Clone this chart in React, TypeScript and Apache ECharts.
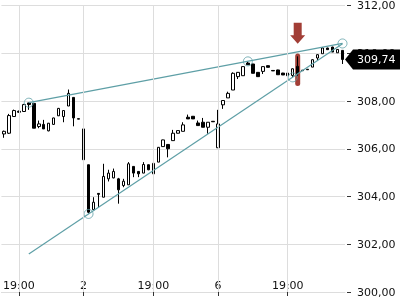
import React, { useEffect, useRef } from "react";
import * as echarts from "echarts";

// OHLC per candle (index 0..68)
const opens = [306.62, 306.65, 307.35, 307.57, 307.56, 307.92, 307.90, 306.93, 307.02, 306.75, 307.02, 307.38, 307.35, 307.79, 308.15, 307.26, 306.83, 305.33, 303.45, 304.13, 303.97, 304.74, 304.78, 304.74, 304.46, 304.49, 305.26, 305.05, 304.98, 305.33, 304.95, 305.44, 306.09, 306.18, 306.34, 306.65, 306.73, 307.32, 307.36, 307.08, 307.11, 306.90, 307.15, 306.04, 307.84, 308.13, 308.46, 309.02, 309.06, 309.59, 309.55, 309.20, 309.24, 309.48, 309.28, 309.30, 309.17, 309.17, 309.07, 309.45, 309.29, 309.33, 309.42, 309.80, 309.98, 310.22, 310.26, 310.02, 310.12];
const closes = [306.73, 307.39, 307.60, 307.53, 307.85, 307.85, 306.86, 307.04, 306.83, 307.07, 307.29, 307.69, 307.60, 308.32, 307.29, 307.24, 305.54, 303.34, 303.76, 304.09, 304.84, 304.98, 305.05, 304.28, 304.64, 305.37, 304.98, 304.95, 305.34, 305.12, 305.39, 306.06, 306.37, 306.00, 306.65, 306.76, 307.00, 307.25, 307.25, 306.97, 306.90, 307.11, 307.13, 307.04, 308.02, 308.32, 309.16, 309.20, 309.44, 309.52, 309.16, 309.02, 309.44, 309.41, 309.26, 309.10, 309.09, 309.06, 309.35, 309.14, 309.27, 309.31, 309.73, 309.94, 310.22, 310.15, 310.05, 310.16, 309.74];
const lows = [306.46, 306.62, 307.33, 307.51, 307.54, 307.63, 306.86, 306.86, 306.83, 306.73, 307.00, 307.37, 307.11, 307.79, 306.94, 307.24, 305.54, 303.29, 303.45, 303.55, 303.97, 304.63, 304.76, 303.70, 304.39, 304.49, 304.81, 304.81, 304.98, 305.10, 304.95, 305.44, 306.09, 305.64, 306.34, 306.64, 306.73, 307.25, 307.25, 306.97, 306.90, 306.63, 307.13, 306.04, 307.67, 308.13, 308.46, 308.92, 309.06, 309.52, 309.16, 309.02, 309.13, 309.41, 309.26, 309.10, 309.09, 309.06, 309.00, 309.05, 309.27, 309.31, 309.42, 309.70, 309.98, 310.15, 310.05, 310.02, 309.55];
const highs = [306.76, 307.46, 307.64, 307.60, 307.88, 307.93, 307.90, 307.18, 307.21, 307.08, 307.30, 307.71, 307.61, 308.48, 308.15, 307.26, 306.83, 305.33, 303.97, 304.14, 305.37, 305.12, 305.17, 304.78, 304.74, 305.44, 305.26, 305.06, 305.44, 305.34, 305.40, 306.07, 306.38, 306.18, 306.79, 306.77, 307.11, 307.43, 307.37, 307.18, 307.29, 307.11, 307.15, 307.63, 308.02, 308.39, 309.20, 309.21, 309.45, 309.66, 309.56, 309.21, 309.45, 309.49, 309.28, 309.31, 309.18, 309.18, 309.36, 309.87, 309.29, 309.33, 309.74, 309.95, 310.26, 310.23, 310.27, 310.17, 310.13];

// x-axis tick labels (candle index -> label)
const xTickIndices = [3, 16, 30, 43, 57];
const xTickLabels = ["19:00", "2", "19:00", "6", "19:00"];

// y axis
const yMin = 300;
const yMax = 312;
const yInterval = 2;

// trendlines [index, value]
const upperTrend = [[5, 307.93], [68, 310.41]];
const lowerTrend = [[5, 301.59], [68, 310.40]];
const pivotPoints = [[5, 307.93], [17, 303.27], [49, 309.66], [58, 308.99], [68, 310.41]];

// signal marker
const signalIndex = 59;
const signalBar = [308.73, 309.88];
const signalArrowTip = 310.40;
const signalArrowTop = 311.28;

const TEAL = "#5e9fa6";
const RED = "#a23e36";
const FONT = "DejaVu Sans";

const fmt = (v: number) => v.toFixed(2).replace(".", ",");

export default function App() {
  const ref = useRef<HTMLDivElement>(null);
  useEffect(() => {
    document.body.style.margin = "0";
    if (!ref.current) return;
    const chart = echarts.init(ref.current, null, { renderer: "svg" });
    const categories = opens.map((_, i) => String(i));
    const labelAt = new Map<number, string>(xTickIndices.map((idx, k) => [idx, xTickLabels[k]]));
    const candleData = opens.map((o, i) => [o, closes[i], lows[i], highs[i]]);

    chart.setOption({
      animation: false,
      grid: { left: 0, right: 55, top: 5, bottom: 8, containLabel: false },
      xAxis: {
        type: "category",
        data: categories,
        boundaryGap: true,
        axisLine: { show: true, lineStyle: { color: "#dddddd" } },
        axisTick: {
          show: true,
          alignWithLabel: true,
          interval: (index: number) => labelAt.has(index),
          length: 4,
          lineStyle: { color: "#333" },
        },
        axisLabel: {
          inside: true,
          margin: 1,
          interval: (index: number) => labelAt.has(index),
          formatter: (_v: string, index: number) => labelAt.get(index) ?? "",
          color: "#111",
          fontFamily: FONT,
          fontSize: 11,
        },
        splitLine: { show: false },
      },
      yAxis: {
        type: "value",
        position: "right",
        min: yMin,
        max: yMax,
        interval: yInterval,
        offset: 2,
        axisLine: { show: false },
        axisTick: { show: true, length: 4, lineStyle: { color: "#333" } },
        axisLabel: {
          margin: 10,
          formatter: (v: number) => fmt(v),
          color: "#111",
          fontFamily: FONT,
          fontSize: 11,
        },
        splitLine: { show: true, lineStyle: { color: "#dddddd" } },
      },
      series: [
        {
          type: "line",
          z: 1,
          symbol: "none",
          data: [[signalIndex, signalBar[0]], [signalIndex, signalBar[1]]],
          lineStyle: { color: RED, width: 5, cap: "round" },
          silent: true,
          markLine: {
            silent: true,
            symbol: "none",
            label: { show: false },
            lineStyle: { color: "#dddddd", width: 1, type: "solid" },
            data: xTickIndices.map((idx) => ({ xAxis: idx })),
          },
        },
        {
          type: "candlestick",
          z: 2,
          data: candleData,
          barWidth: 3,
          itemStyle: {
            color: "#ffffff",
            color0: "#000000",
            borderColor: "#000000",
            borderColor0: "#000000",
            borderWidth: 1,
          },
        },
        {
          type: "line",
          z: 3,
          symbol: "none",
          data: upperTrend,
          lineStyle: { color: TEAL, width: 1.2 },
          silent: true,
        },
        {
          type: "line",
          z: 3,
          symbol: "none",
          data: lowerTrend,
          lineStyle: { color: TEAL, width: 1.2 },
          silent: true,
        },
        {
          type: "scatter",
          z: 4,
          symbol: "circle",
          symbolSize: 9,
          data: pivotPoints,
          itemStyle: { color: "rgba(0,0,0,0)", borderColor: TEAL, borderWidth: 1 },
          silent: true,
        },
      ],
    });

    const tip = chart.convertToPixel({ xAxisIndex: 0, yAxisIndex: 0 }, [signalIndex, signalArrowTip]) as number[];
    const top = chart.convertToPixel({ xAxisIndex: 0, yAxisIndex: 0 }, [signalIndex, signalArrowTop]) as number[];
    const last = closes[closes.length - 1];
    const lp = chart.convertToPixel({ xAxisIndex: 0, yAxisIndex: 0 }, [closes.length - 1, last]) as number[];
    const bandHalf = 2.5;
    const tx = tip[0];
    const ty = tip[1];
    const headY = ty - 8.5;
    const lx = lp[0] + bandHalf;
    const ly = lp[1];

    chart.setOption({
      graphic: [
        {
          type: "polygon",
          z: 100,
          silent: true,
          shape: {
            points: [
              [tx - 4, top[1]],
              [tx + 4, top[1]],
              [tx + 4, headY],
              [tx + 7.5, headY],
              [tx, ty],
              [tx - 7.5, headY],
              [tx - 4, headY],
            ],
          },
          style: { fill: RED },
        },
        {
          type: "polygon",
          z: 100,
          silent: true,
          shape: {
            points: [
              [lx, ly],
              [lx + 8, ly - 10],
              [400, ly - 10],
              [400, ly + 10],
              [lx + 8, ly + 10],
            ],
          },
          style: { fill: "#000" },
        },
        {
          type: "text",
          z: 101,
          silent: true,
          x: lx + 12,
          y: ly,
          style: {
            text: fmt(last),
            fill: "#fff",
            font: `11px "${FONT}"`,
            verticalAlign: "middle",
            align: "left",
          },
        },
      ],
    });

    return () => chart.dispose();
  }, []);
  return <div ref={ref} style={{ position: "fixed", left: 0, top: 0, width: 400, height: 300 }} />;
}
